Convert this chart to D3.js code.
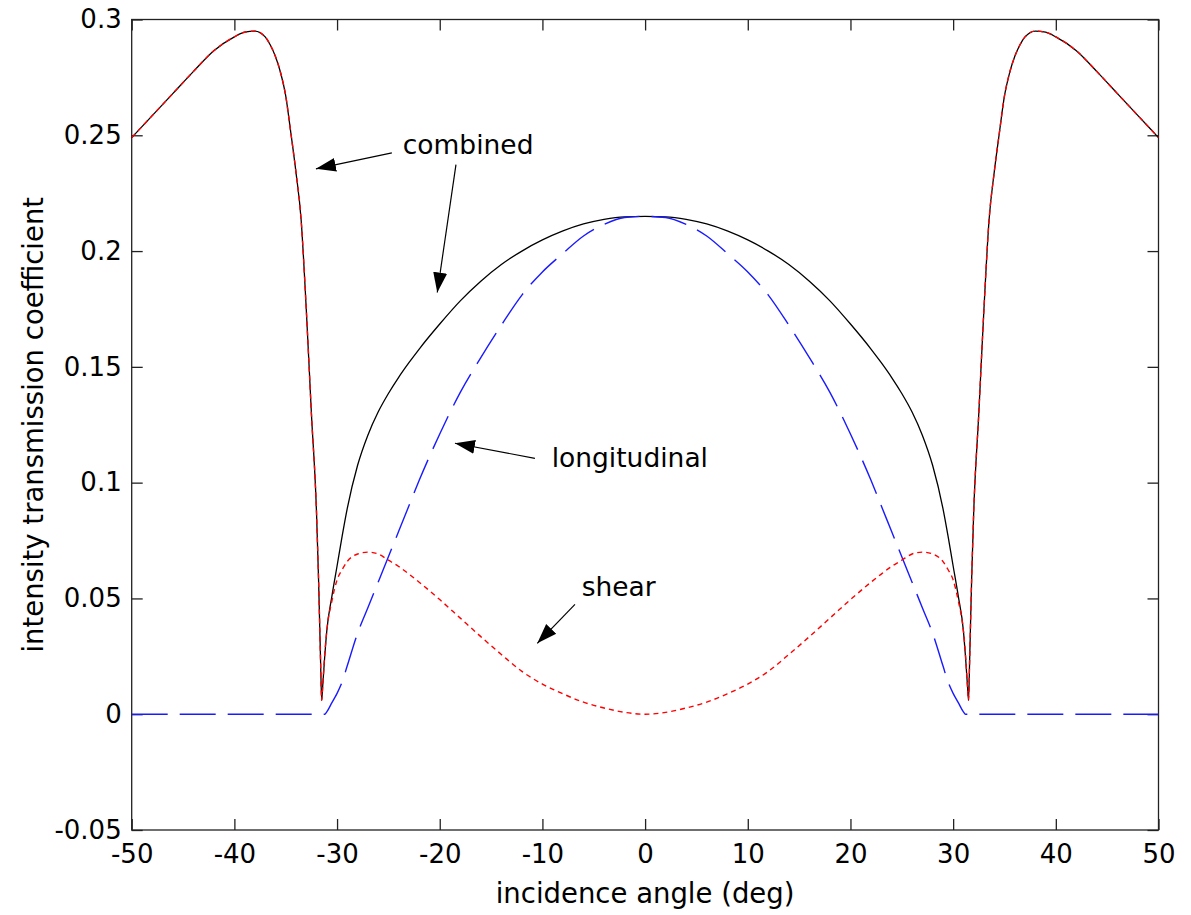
<!DOCTYPE html>
<html>
<head>
<meta charset="utf-8">
<script src="https://cdn.jsdelivr.net/npm/d3@7"></script>
<style>
    body { margin: 0; background: #fff; }
    text { font-family: "DejaVu Sans", sans-serif; fill: #000; }
</style>
</head>
<body>
<script>
//incidence angle samples (deg), denser around the critical angle
var angles = [-50,-48,-46,-44,-42,-40,-39,-38,-37,-36.5,-36,-35.5,-35,-34.5,-34,-33.5,-33,-32.5,-32,-31.8,
    -31.6,-31.5,-31.4,-31.2,-31,-30.5,-30,-29.5,-29,-28,-27,-26,-25,-24,-23,-22,-20,-18,-16,-14,
    -12,-10,-8,-6,-4,-2,0,2,4,6,8,10,12,
    14,16,18,20,22,23,24,25,26,27,28,29,29.5,30,30.5,31,31.2,31.4,31.5,31.6,
    31.8,32,32.5,33,33.5,34,34.5,35,35.5,36,36.5,37,38,39,40,42,44,46,48,50];

//combined (black solid)
var combined = [0.249,0.2585,0.268,0.2775,0.2865,0.2925,0.2945,0.295,0.2925,0.289,0.284,0.277,0.267,0.251,0.234,0.2135,0.175,0.13,0.087,0.058,
    0.022,0.006,0.012,0.025,0.036,0.051,0.064,0.077,0.089,0.1075,0.1205,0.1305,0.1385,0.1455,0.1518,0.1577,0.1685,0.1785,0.1870,0.1942,
    0.2,0.2048,0.2087,0.2117,0.2137,0.2148,0.215,0.2148,0.2137,0.2117,0.2087,0.2048,0.2,
    0.1942,0.1870,0.1785,0.1685,0.1577,0.1518,0.1455,0.1385,0.1305,0.1205,0.1075,0.089,0.077,0.064,0.051,0.036,0.025,0.012,0.006,0.022,
    0.058,0.087,0.13,0.175,0.2135,0.234,0.251,0.267,0.277,0.284,0.289,0.2925,0.295,0.2945,0.2925,0.2865,0.2775,0.268,0.2585,0.249];

//longitudinal (blue dashed)
var longitudinal = [0,0,0,0,0,0,0,0,0,0,0,0,0,0,0,0,0,0,0,0,
    0,0,0,0,0.001,0.005,0.009,0.014,0.021,0.035,0.046,0.057,0.068,0.079,0.090,0.101,0.121,0.139,0.154,0.168,
    0.181,0.191,0.199,0.2065,0.2115,0.2145,0.215,0.2145,0.2115,0.2065,0.199,0.191,0.181,
    0.168,0.154,0.139,0.121,0.101,0.090,0.079,0.068,0.057,0.046,0.035,0.021,0.014,0.009,0.005,0.001,0,0,0,0,
    0,0,0,0,0,0,0,0,0,0,0,0,0,0,0,0,0,0,0,0];

//shear (red dotted)
var shear = [0.249,0.2585,0.268,0.2775,0.2865,0.2925,0.2945,0.295,0.2925,0.289,0.284,0.277,0.267,0.251,0.234,0.2135,0.175,0.13,0.087,0.058,
    0.022,0.006,0.012,0.026,0.036,0.049,0.058,0.0625,0.066,0.0692,0.0700,0.0692,0.0665,0.0638,0.0605,0.0570,0.0495,0.0415,0.0335,0.0258,
    0.0185,0.0130,0.0088,0.0052,0.0027,0.0008,0,0.0008,0.0027,0.0052,0.0088,0.0130,0.0185,
    0.0258,0.0335,0.0415,0.0495,0.0570,0.0605,0.0638,0.0665,0.0692,0.0700,0.0692,0.066,0.0625,0.058,0.049,0.036,0.026,0.012,0.006,0.022,
    0.058,0.087,0.13,0.175,0.2135,0.234,0.251,0.267,0.277,0.284,0.289,0.2925,0.295,0.2945,0.2925,0.2865,0.2775,0.268,0.2585,0.249];

var xTicks = [-50,-40,-30,-20,-10,0,10,20,30,40,50];
var yTicks = [-0.05,0,0.05,0.1,0.15,0.2,0.25,0.3];
var yTickLabels = ["-0.05","0","0.05","0.1","0.15","0.2","0.25","0.3"];

//text labels with arrows, in data units
var notes = [
    {text: "combined", x: -23.6, y: 0.242},
    {text: "longitudinal", x: -9.1, y: 0.1069},
    {text: "shear", x: -6.18, y: 0.051}
];
var arrows = [
    {x1: -24.66, y1: 0.2424, x2: -32.06, y2: 0.2355},
    {x1: -18.42, y1: 0.2373, x2: -20.24, y2: 0.1821},
    {x1: -10.73, y1: 0.1105, x2: -18.52, y2: 0.117},
    {x1: -6.83, y1: 0.0474, x2: -10.5, y2: 0.0306}
];

window.onload = drawChart();

function drawChart(){

    var width = 1191,
        height = 915;

    var svg = d3.select("body")
        .append("svg")
        .attr("width", width)
        .attr("height", height);

    var x = d3.scaleLinear().domain([-50, 50]).range([131.7, 1158.5]);
    var y = d3.scaleLinear().domain([-0.05, 0.3]).range([830, 19.5]);

    //arrow head
    svg.append("defs").append("marker")
        .attr("id", "head")
        .attr("markerUnits", "userSpaceOnUse")
        .attr("viewBox", "0 -8 20 16")
        .attr("refX", 20)
        .attr("refY", 0)
        .attr("markerWidth", 20)
        .attr("markerHeight", 16)
        .attr("orient", "auto")
        .append("path")
        .attr("d", "M0,-7L20,0L0,7Z")
        .attr("fill", "#000");

    //axes with inward ticks on all four sides
    var tickLen = 11;
    svg.append("g")
        .attr("class", "axis")
        .attr("transform", "translate(0,830)")
        .call(d3.axisBottom(x).tickValues(xTicks).tickFormat(function(d){ return String(d); })
            .tickSizeInner(-tickLen).tickSizeOuter(0).tickPadding(15));
    svg.append("g")
        .attr("class", "axis")
        .attr("transform", "translate(0,19.5)")
        .call(d3.axisTop(x).tickValues(xTicks).tickFormat("")
            .tickSizeInner(-tickLen).tickSizeOuter(0));
    svg.append("g")
        .attr("class", "axis")
        .attr("transform", "translate(131.7,0)")
        .call(d3.axisLeft(y).tickValues(yTicks).tickFormat(function(d, i){ return yTickLabels[i]; })
            .tickSizeInner(-tickLen).tickSizeOuter(0).tickPadding(10));
    svg.append("g")
        .attr("class", "axis")
        .attr("transform", "translate(1158.5,0)")
        .call(d3.axisRight(y).tickValues(yTicks).tickFormat("")
            .tickSizeInner(-tickLen).tickSizeOuter(0));

    svg.selectAll(".axis .domain").remove();
    svg.selectAll(".axis line").attr("stroke", "#222").attr("stroke-width", 1.3);
    svg.selectAll(".axis text")
        .style("font-family", "DejaVu Sans, sans-serif")
        .style("font-size", "26px")
        .attr("fill", "#000");

    //plot box
    svg.append("rect")
        .attr("x", x(-50))
        .attr("y", y(0.3))
        .attr("width", x(50) - x(-50))
        .attr("height", y(-0.05) - y(0.3))
        .attr("fill", "none")
        .attr("stroke", "#222")
        .attr("stroke-width", 1.3);

    var line = function(vals){
        return d3.line()
            .x(function(d, i){ return x(angles[i]); })
            .y(function(d){ return y(d); })
            .curve(d3.curveMonotoneX)(vals);
    };

    //combined
    svg.append("path")
        .attr("d", line(combined))
        .attr("fill", "none")
        .attr("stroke", "#000")
        .attr("stroke-width", 1.3);

    //longitudinal
    svg.append("path")
        .attr("d", line(longitudinal))
        .attr("fill", "none")
        .attr("stroke", "#1a1aff")
        .attr("stroke-width", 1.4)
        .attr("stroke-dasharray", "36,12");

    //shear
    svg.append("path")
        .attr("d", line(shear))
        .attr("fill", "none")
        .attr("stroke", "#ff0000")
        .attr("stroke-width", 1.4)
        .attr("stroke-dasharray", "5,4");

    //annotations
    svg.selectAll(".arrow")
        .data(arrows)
        .enter()
        .append("line")
        .attr("class", "arrow")
        .attr("x1", function(d){ return x(d.x1); })
        .attr("y1", function(d){ return y(d.y1); })
        .attr("x2", function(d){ return x(d.x2); })
        .attr("y2", function(d){ return y(d.y2); })
        .attr("stroke", "#000")
        .attr("stroke-width", 1.2)
        .attr("marker-end", "url(#head)");

    svg.selectAll(".note")
        .data(notes)
        .enter()
        .append("text")
        .attr("class", "note")
        .attr("x", function(d){ return x(d.x); })
        .attr("y", function(d){ return y(d.y); })
        .style("font-size", "26.5px")
        .text(function(d){ return d.text; });

    //axis titles
    svg.append("text")
        .attr("x", (x(-50) + x(50)) / 2)
        .attr("y", 903)
        .attr("text-anchor", "middle")
        .style("font-size", "27.5px")
        .text("incidence angle (deg)");

    svg.append("text")
        .attr("transform", "translate(43," + ((y(0.3) + y(-0.05)) / 2) + ") rotate(-90)")
        .attr("text-anchor", "middle")
        .style("font-size", "27.5px")
        .text("intensity transmission coefficient");
};
</script>
</body>
</html>
